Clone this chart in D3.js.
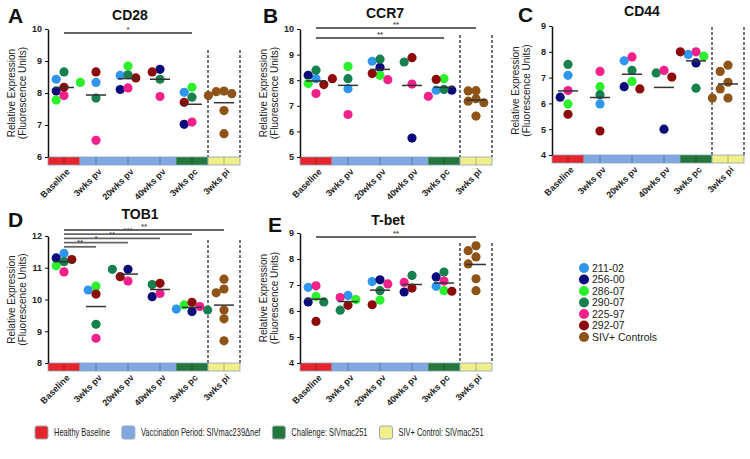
<!DOCTYPE html>
<meta charset="utf-8">
<style>
body { margin: 0; background: #fff; }
svg { font-family: 'Liberation Sans', Arial, sans-serif; }
.letter { font-size: 21px; font-weight: bold; fill: #111; }
.title { font-size: 14px; font-weight: bold; fill: #111; }
.ylab { font-size: 10px; fill: #222; }
.axis .domain { stroke: #111; stroke-width: 1.5px; }
.axis line { stroke: #111; }
.axis text { font-size: 9px; font-weight: bold; fill: #222; font-family: 'Liberation Sans', Arial, sans-serif; }
.sig line { stroke: #666; stroke-width: 1.8px; }
.sig text { font-size: 8px; font-weight: bold; fill: #555; }
.legend text { font-size: 10.5px; fill: #222; }
.phase-legend text { font-size: 10.5px; fill: #222; }
</style>
<body>
<div id="chart"></div>
<script src="https://cdn.jsdelivr.net/npm/d3@7"></script>
<script>
// time points and animals
var timepoints = ['Baseline', '3wks pv', '20wks pv', '40wks pv', '3wks pc', '3wks pi']
var animals = ['211-02', '256-00', '286-07', '290-07', '225-97', '292-07']
var animalColors = ['#2f96ef', '#0a0a7a', '#2cf02c', '#17804f', '#f2208a', '#8c0a0a']
var controlLabel = 'SIV+ Controls'
var controlColor = '#8e5316'

// rows = animals (same order), cols = Baseline .. 3wks pc
var cd28Values = [
  [8.43, 8.33, 8.55, null, 8.02],
  [8.06, null, 8.11, 8.74, 7.02],
  [7.78, 8.33, 8.84, null, 8.18],
  [8.66, 7.84, 8.57, 8.43, 7.87],
  [7.92, 6.52, 8.16, 7.89, 7.09],
  [8.18, 8.66, 8.47, 8.66, 7.71]
]
var cd28Controls = [8.06, 8.04, 7.98, 7.92, 7.45, 6.73]

var ccr7Values = [
  [8.06, 7.67, 8.74, null, 7.61],
  [8.19, null, 8.50, 5.74, 7.61],
  [7.87, 8.54, 8.19, null, 8.06],
  [8.39, 8.06, 8.82, 8.71, 7.64],
  [7.48, 6.66, 8.02, 7.85, 7.37],
  [7.83, 8.06, 8.26, 8.88, 8.03]
]
var ccr7Controls = [7.59, 7.58, 7.28, 7.18, 7.12, 6.60]

var cd44Values = [
  [7.09, 5.98, 7.65, null, 7.90],
  [6.24, null, 6.65, 5.00, 7.57],
  [5.98, 6.65, 6.85, null, 7.83],
  [7.51, 6.34, 7.28, 7.18, 6.59],
  [6.50, 7.24, 7.80, 7.28, 8.00],
  [5.58, 4.93, 6.56, 7.02, 8.00]
]
var cd44Controls = [7.48, 7.24, 6.82, 6.56, 6.21, 6.21]

var tob1Values = [
  [11.45, 10.30, null, null, 9.70],
  [11.31, null, 10.95, 10.09, 9.62],
  [11.06, 10.42, null, null, 9.83],
  [11.19, 9.22, 10.95, 10.47, 9.67],
  [10.87, 8.78, 10.58, 10.19, 9.78],
  [11.26, 10.17, 10.72, 10.51, 9.91]
]
var tob1Controls = [10.64, 10.33, 10.21, 9.67, 9.39, 8.70]

var tbetValues = [
  [6.91, 6.60, 7.13, null, 6.95],
  [6.35, null, 7.20, 6.73, 7.31],
  [6.56, 6.44, 6.42, null, 6.78],
  [6.35, 6.03, 6.78, 7.37, 7.50],
  [6.97, 6.52, 7.04, 7.10, 7.15],
  [5.60, 6.22, 6.24, 6.88, 6.76]
]
var tbetControls = [8.51, 8.32, 8.08, 7.81, 7.24, 6.78]

// significance bars, listed top to bottom
var cd28Sig = [['Baseline', '3wks pc', '*']]
var ccr7Sig = [['Baseline', '3wks pi', '**'], ['Baseline', '3wks pc', '**']]
var cd44Sig = []
var tob1Sig = [
  ['Baseline', '3wks pi', '**'],
  ['Baseline', '3wks pc', '***'],
  ['Baseline', '40wks pv', '**'],
  ['Baseline', '20wks pv', '*'],
  ['Baseline', '3wks pv', '**']
]
var tbetSig = [['Baseline', '3wks pi', '**']]

// study phases (colour bar under each x axis)
var phaseNames = ['Healthy Baseline', 'Vaccination Period: SIVmac239Δnef', 'Challenge: SIVmac251', 'SIV+ Control: SIVmac251']
var phaseColors = ['#e5242b', '#7fa7e3', '#24773a', '#f1ef8a']
var phaseFrom = ['Baseline', '3wks pv', '3wks pc', '3wks pi']
var phaseTo = ['Baseline', '40wks pv', '3wks pc', '3wks pi']

var panels = [
  { letter: 'A', title: 'CD28', values: cd28Values, controls: cd28Controls, sig: cd28Sig,
    domain: [6, 10], ticks: [6, 7, 8, 9, 10], left: 48, top: 29, bottom: 157,
    letterX: 8, letterY: 23, titleX: 130, titleY: 20, dashTop: 50, sigTop: 4, sigStep: 10 },
  { letter: 'B', title: 'CCR7', values: ccr7Values, controls: ccr7Controls, sig: ccr7Sig,
    domain: [5, 10], ticks: [5, 6, 7, 8, 9, 10], left: 300, top: 29, bottom: 157,
    letterX: 263, letterY: 23, titleX: 385, titleY: 18, dashTop: 35, sigTop: -1, sigStep: 10 },
  { letter: 'C', title: 'CD44', values: cd44Values, controls: cd44Controls, sig: cd44Sig,
    domain: [4, 9], ticks: [4, 5, 6, 7, 8, 9], left: 552, top: 26, bottom: 155,
    letterX: 518, letterY: 22, titleX: 642, titleY: 16, dashTop: 27, sigTop: 0, sigStep: 10 },
  { letter: 'D', title: 'TOB1', values: tob1Values, controls: tob1Controls, sig: tob1Sig,
    domain: [8, 12], ticks: [8, 9, 10, 11, 12], left: 48, top: 236, bottom: 363,
    letterX: 8, letterY: 227, titleX: 140, titleY: 219, dashTop: 240, sigTop: -6, sigStep: 4.2 },
  { letter: 'E', title: 'T-bet', values: tbetValues, controls: tbetControls, sig: tbetSig,
    domain: [4, 9], ticks: [4, 5, 6, 7, 8, 9], left: 300, top: 233, bottom: 363,
    letterX: 268, letterY: 232, titleX: 388, titleY: 225, dashTop: 243, sigTop: 4, sigStep: 10 }
]

var radius = 4.6
var panelWidth = 192
var barHeight = 8

var svg = d3.select('#chart')
  .append('svg')
  .attr('width', 750)
  .attr('height', 459)

svg.append('rect').attr('width', 750).attr('height', 459).attr('fill', '#fff')

// spread points of one column sideways so they don't sit on top of each other
function dodge(points, yScale) {
  var placed = []
  points
    .slice()
    .sort((a, b) => b.value - a.value)
    .forEach(function(p) {
      var py = yScale(p.value)
      var offsets = [0, -1, 1, -2, 2, -3, 3]
      for (var i = 0; i < offsets.length; i++) {
        var dx = offsets[i] * radius * 1.7
        var ok = placed.every(q => Math.hypot(q.dx - dx, q.py - py) > radius * 1.7)
        if (ok) break
      }
      p.dx = dx
      p.py = py
      placed.push(p)
    })
  return points
}

panels.forEach(function(cfg) {
  var g = svg.append('g')

  var xScale = d3.scaleBand()
    .domain(timepoints)
    .range([cfg.left, cfg.left + panelWidth])
    .padding(0)
  var bw = xScale.bandwidth()

  var yScale = d3.scaleLinear()
    .domain(cfg.domain)
    .range([cfg.bottom, cfg.top])

  // panel letter + title
  g.append('text').attr('class', 'letter').attr('x', cfg.letterX).attr('y', cfg.letterY).text(cfg.letter)
  g.append('text').attr('class', 'title').attr('x', cfg.titleX).attr('y', cfg.titleY)
    .attr('text-anchor', 'middle').text(cfg.title)

  // y label
  var yMid = (cfg.top + cfg.bottom) / 2
  g.append('text').attr('class', 'ylab')
    .attr('transform', 'translate(' + (cfg.left - 37) + ',' + yMid + ') rotate(-90)')
    .attr('text-anchor', 'middle').attr('dy', '0.35em')
    .text('Relative Expression')
  g.append('text').attr('class', 'ylab')
    .attr('transform', 'translate(' + (cfg.left - 26) + ',' + yMid + ') rotate(-90)')
    .attr('text-anchor', 'middle').attr('dy', '0.35em')
    .text('(Fluorescence Units)')

  // dashed separators around the control column
  var xPi = xScale('3wks pi')
  ;[xPi, xPi + bw].forEach(function(x) {
    g.append('line')
      .attr('x1', x).attr('x2', x)
      .attr('y1', cfg.dashTop).attr('y2', cfg.bottom)
      .attr('stroke', '#444')
      .attr('stroke-width', 1.5)
      .attr('stroke-dasharray', '3,2')
  })

  // significance bars
  var sigG = g.append('g').attr('class', 'sig')
  cfg.sig.forEach(function(s, i) {
    var y = cfg.top + cfg.sigTop + i * cfg.sigStep
    var x1 = xScale(s[0]) + bw / 2
    var x2 = xScale(s[1]) + bw / 2
    sigG.append('line').attr('x1', x1).attr('x2', x2).attr('y1', y).attr('y2', y)
    sigG.append('text').attr('x', (x1 + x2) / 2).attr('y', y - 1.5)
      .attr('text-anchor', 'middle').text(s[2])
  })

  // build columns
  var columns = timepoints.map(function(tp, j) {
    var pts = []
    if (j < 5) {
      cfg.values.forEach(function(row, a) {
        if (row[j] != null) pts.push({ value: row[j], color: animalColors[a] })
      })
    } else {
      cfg.controls.forEach(v => pts.push({ value: v, color: controlColor }))
    }
    return { tp: tp, points: dodge(pts, yScale) }
  })

  columns.forEach(function(col) {
    var cx = xScale(col.tp) + bw / 2
    var mean = d3.mean(col.points, d => d.value)

    g.append('g')
      .selectAll('circle')
      .data(col.points)
      .enter()
      .append('circle')
      .attr('cx', d => cx + d.dx)
      .attr('cy', d => yScale(d.value))
      .attr('r', radius)
      .attr('fill', d => d.color)

    g.append('line')
      .attr('x1', cx - 10).attr('x2', cx + 10)
      .attr('y1', yScale(mean)).attr('y2', yScale(mean))
      .attr('stroke', '#333')
      .attr('stroke-width', 1.5)
  })

  // phase colour bar
  phaseNames.forEach(function(name, i) {
    var x0 = xScale(phaseFrom[i])
    var x1 = xScale(phaseTo[i]) + bw
    g.append('rect')
      .attr('x', x0).attr('y', cfg.bottom)
      .attr('width', x1 - x0).attr('height', barHeight)
      .attr('fill', phaseColors[i])
      .attr('stroke', '#8aa3b8')
      .attr('stroke-width', 0.8)
  })
  timepoints.forEach(function(tp) {
    var cx = xScale(tp) + bw / 2
    g.append('line')
      .attr('x1', cx).attr('x2', cx)
      .attr('y1', cfg.bottom).attr('y2', cfg.bottom + barHeight)
      .attr('stroke', '#000').attr('stroke-opacity', 0.25)
  })

  // axes
  var yAxis = d3.axisLeft(yScale).tickValues(cfg.ticks).tickSize(3).tickSizeOuter(0).tickFormat(d3.format('d'))
  g.append('g')
    .attr('class', 'axis y-axis')
    .attr('transform', 'translate(' + cfg.left + ',0)')
    .call(yAxis)

  var xAxis = d3.axisBottom(xScale).tickSize(0)
  var xg = g.append('g')
    .attr('class', 'axis x-axis')
    .attr('transform', 'translate(0,' + (cfg.bottom + barHeight) + ')')
    .call(xAxis)
  xg.select('.domain').remove()
  xg.selectAll('text')
    .attr('text-anchor', 'end')
    .attr('transform', 'translate(4,5) rotate(-45)')
    .attr('dy', '0.35em')
    .attr('y', 0)
})

// animal legend
var legend = svg.append('g').attr('class', 'legend')
var legendLabels = animals.concat([controlLabel])
var legendColors = animalColors.concat([controlColor])
legendLabels.forEach(function(label, i) {
  var y = 268 + i * 11.5
  legend.append('circle').attr('cx', 584).attr('cy', y).attr('r', 5).attr('fill', legendColors[i])
  legend.append('text').attr('x', 592).attr('y', y).attr('dy', '0.36em').text(label)
})

// phase legend at the bottom (condensed type, like the original)
var squeeze = 0.71
var phaseLegend = svg.append('g').attr('class', 'phase-legend')
var px = 35
phaseNames.forEach(function(name, i) {
  phaseLegend.append('rect')
    .attr('x', px).attr('y', 426)
    .attr('width', 13).attr('height', 13)
    .attr('rx', 2)
    .attr('fill', phaseColors[i])
    .attr('stroke', '#9aa9b5')
  var t = phaseLegend.append('text')
    .attr('transform', 'translate(' + (px + 19) + ',432.5) scale(' + squeeze + ',1)')
    .attr('dy', '0.35em')
    .text(name)
  px = px + 19 + t.node().getComputedTextLength() * squeeze + 12
})
</script>
</body>
